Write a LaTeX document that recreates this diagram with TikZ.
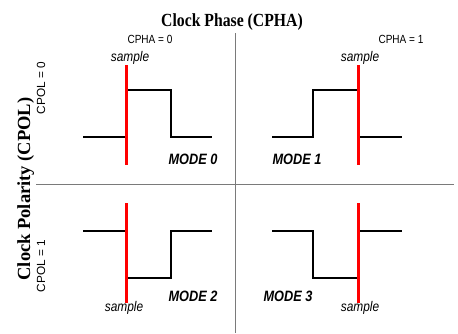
\documentclass[tikz,border=0pt]{standalone}
\usepackage{fontspec}
\setmainfont{Liberation Serif}
\setsansfont{Liberation Sans}
\usetikzlibrary{positioning}
\definecolor{rule}{HTML}{7A7A7A}
\definecolor{strobered}{HTML}{FF0000}

\begin{document}
\begin{tikzpicture}[x=1pt,y=-1pt,
  wave/.style={black,line width=1.3pt},
  strobe/.style={strobered,line width=3pt},
  divider/.style={rule,line width=0.9pt},
  head/.style={font=\fontsize{18.5}{20}\selectfont\bfseries,inner sep=0pt,anchor=base},
  cfg/.style={font=\sffamily\fontsize{11.8}{13}\selectfont,inner sep=0pt,anchor=base},
  samp/.style={font=\sffamily\itshape\fontsize{14}{16}\selectfont,inner sep=0pt,anchor=base,xscale=0.85},
  mode/.style={font=\sffamily\bfseries\itshape\fontsize{15}{17}\selectfont,inner sep=0pt,anchor=base,xscale=0.85}]
\useasboundingbox (0,0) rectangle (458,333);

% axes titles
\node[head,xscale=0.85] (phase) at (232,26) {Clock Phase (CPHA)};
\node[head,rotate=90] (polarity) at (30,189) {Clock Polarity (CPOL)};
\node[cfg,xscale=0.85] (cpha0) at (150,43) {CPHA = 0};
\node[cfg,xscale=0.85] (cpha1) at (401,43) {CPHA = 1};
\node[cfg,rotate=90] (cpol0) at (45,88) {CPOL = 0};
\node[cfg,rotate=90] (cpol1) at (45,266) {CPOL = 1};

% quadrant dividers
\coordinate (vtop) at (235,33);
\coordinate (vbot) at (235,333);
\coordinate (hleft) at (36,184);
\coordinate (hright) at (454,184);
\draw[divider] (vtop) -- (vbot);
\draw[divider] (hleft) -- (hright);

% clock waveforms
\draw[wave] (83,137) -| (126,90) -| (171,137) -- (212,137);
\draw[wave] (272,137) -| (313,90) -| (358,137) -- (402,137);
\draw[wave] (83,231) -| (126,278) -| (171,231) -- (212,231);
\draw[wave] (272,231) -| (313,278) -| (358,231) -- (402,231);

% sampling edges
\draw[strobe] (126,65) -- (126,165);
\draw[strobe] (358,65) -- (358,165);
\draw[strobe] (126,203) -- (126,303);
\draw[strobe] (358,203) -- (358,303);

\node[samp] (s0) at (130,61) {sample};
\node[samp] (s1) at (360,61) {sample};
\node[samp] (s2) at (124,311) {sample};
\node[samp] (s3) at (360,311) {sample};

\node[mode] (m0) at (193,164) {MODE 0};
\node[mode] (m1) at (297,164) {MODE 1};
\node[mode] (m2) at (193,301) {MODE 2};
\node[mode] (m3) at (288,301) {MODE 3};
\end{tikzpicture}
\end{document}
